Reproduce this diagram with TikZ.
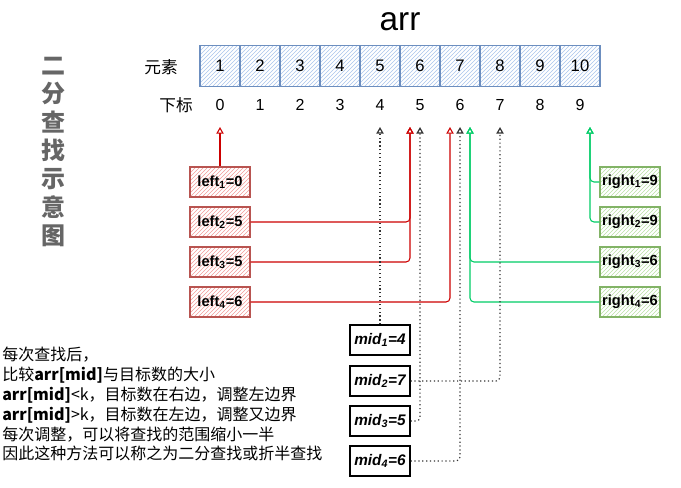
\documentclass[tikz,border=0pt]{standalone}
\usepackage{fontspec}
\setmainfont{Liberation Sans}
\newfontfamily\cjk{Noto Sans CJK SC}
\usetikzlibrary{patterns,arrows.meta}
\definecolor{cellBorder}{HTML}{6C8EBF}
\definecolor{cellHatch}{HTML}{A9C4EB}
\definecolor{leftBorder}{HTML}{B85450}
\definecolor{leftHatch}{HTML}{F19C99}
\definecolor{rightBorder}{HTML}{82B366}
\definecolor{rightHatch}{HTML}{B9E0A5}
\definecolor{leftLine}{HTML}{CC0000}
\definecolor{rightLine}{HTML}{00CC66}
\definecolor{titleGray}{HTML}{666666}
\tikzset{
  cellbox/.style={draw=cellBorder, line width=0.8pt, pattern=north east lines, pattern color=cellHatch,
    minimum width=30pt, minimum height=30.75pt, inner sep=0pt, font=\fontsize{12.5}{14}\selectfont},
  idxlabel/.style={inner sep=0pt, font=\fontsize{12}{14}\selectfont},
  leftbox/.style={draw=leftBorder, line width=0.8pt, pattern=north east lines, pattern color=leftHatch,
    minimum width=45pt, minimum height=22.5pt, inner sep=0pt, font=\bfseries\fontsize{11}{13}\selectfont},
  rightbox/.style={draw=rightBorder, line width=0.8pt, pattern=north east lines, pattern color=rightHatch,
    minimum width=45pt, minimum height=22.5pt, inner sep=0pt, font=\bfseries\fontsize{11}{13}\selectfont},
  midbox/.style={draw=black, line width=0.9pt, fill=white,
    minimum width=45pt, minimum height=22.5pt, inner sep=0pt, font=\bfseries\itshape\fontsize{11.5}{13}\selectfont},
  tip/.style={-{Triangle[open,length=5pt,width=5.5pt]}},
  leftlink/.style={tip, draw=leftLine, line width=0.8pt, rounded corners=3pt},
  rightlink/.style={tip, draw=rightLine, line width=0.8pt, rounded corners=3pt},
  midlink/.style={tip, draw=black!80, line width=0.9pt, dotted, rounded corners=3pt},
}
\begin{document}
\begin{tikzpicture}[x=0.75pt, y=-0.75pt]
\useasboundingbox (0,0) rectangle (681,487);
% Title and vertical caption
\node (title) at (400,22) {\fontsize{25}{28}\selectfont arr};
\node (caption) [text=titleGray, align=center, font=\cjk\bfseries\fontsize{18}{21.2}\selectfont] at (53,152)
  {二\\分\\查\\找\\示\\意\\图};
% Array cells
\node (elemlabel) [font=\cjk\fontsize{12.5}{14}\selectfont] at (161,67) {元素};
\node (c0) [cellbox] at (220,66) {1};
\node (c1) [cellbox] at (260,66) {2};
\node (c2) [cellbox] at (300,66) {3};
\node (c3) [cellbox] at (340,66) {4};
\node (c4) [cellbox] at (380,66) {5};
\node (c5) [cellbox] at (420,66) {6};
\node (c6) [cellbox] at (460,66) {7};
\node (c7) [cellbox] at (500,66) {8};
\node (c8) [cellbox] at (540,66) {9};
\node (c9) [cellbox] at (580,66) {10};
% Indices
\node (idxlabel) [font=\cjk\fontsize{12.5}{14}\selectfont] at (176,105) {下标};
\node (i0) [idxlabel] at (220,105) {0};
\node (i1) [idxlabel] at (260,105) {1};
\node (i2) [idxlabel] at (300,105) {2};
\node (i3) [idxlabel] at (340,105) {3};
\node (i4) [idxlabel] at (380,105) {4};
\node (i5) [idxlabel] at (420,105) {5};
\node (i6) [idxlabel] at (460,105) {6};
\node (i7) [idxlabel] at (500,105) {7};
\node (i8) [idxlabel] at (540,105) {8};
\node (i9) [idxlabel] at (580,105) {9};
% Arrow targets under the indices
\coordinate (tl0) at (220,127);
\coordinate (tm4) at (380,127);
\coordinate (tl5) at (410,127);
\coordinate (tm5) at (420,127);
\coordinate (tl6) at (450,127);
\coordinate (tm6) at (460,127);
\coordinate (tr6) at (470,127);
\coordinate (tm7) at (500,127);
\coordinate (tr9) at (590,127);
% Left pointers
\node (left1) [leftbox] at (220,182) {left\textsubscript{1}=0};
\node (left2) [leftbox] at (220,222) {left\textsubscript{2}=5};
\node (left3) [leftbox] at (220,262) {left\textsubscript{3}=5};
\node (left4) [leftbox] at (220,302) {left\textsubscript{4}=6};
% Right pointers
\node (right1) [rightbox] at (630,182) {right\textsubscript{1}=9};
\node (right2) [rightbox] at (630,222) {right\textsubscript{2}=9};
\node (right3) [rightbox] at (630,262) {right\textsubscript{3}=6};
\node (right4) [rightbox] at (630,302) {right\textsubscript{4}=6};
% Mid pointers
\node (mid1) [midbox] at (380,340) {mid\textsubscript{1}=4};
\node (mid2) [midbox] at (380,381) {mid\textsubscript{2}=7};
\node (mid3) [midbox] at (380,421) {mid\textsubscript{3}=5};
\node (mid4) [midbox] at (380,461) {mid\textsubscript{4}=6};
% Links
\draw[leftlink] (left1.north) -- (tl0);
\draw[leftlink] (left2.east) -| (tl5);
\draw[leftlink] (left3.east) -| (tl5);
\draw[leftlink] (left4.east) -| (tl6);
\draw[rightlink] (right1.west) -| (tr9);
\draw[rightlink] (right2.west) -| (tr9);
\draw[rightlink] (right3.west) -| (tr6);
\draw[rightlink] (right4.west) -| (tr6);
\draw[midlink] (mid1.north) -- (tm4);
\draw[midlink] (mid2.east) -| (tm7);
\draw[midlink] (mid3.east) -| (tm5);
\draw[midlink] (mid4.east) -| (tm6);
% Explanation
\node (notes) [anchor=north west, align=left, inner sep=0pt, font=\cjk\fontsize{12}{14.85}\selectfont] at (2,347)
  {每次查找后，\\
   比较\textbf{arr[mid]}与目标数的大小\\
   \textbf{arr[mid]}<k，目标数在右边，调整左边界\\
   \textbf{arr[mid]}>k，目标数在左边，调整又边界\\
   每次调整，可以将查找的范围缩小一半\\
   因此这种方法可以称之为二分查找或折半查找};
\end{tikzpicture}
\end{document}
